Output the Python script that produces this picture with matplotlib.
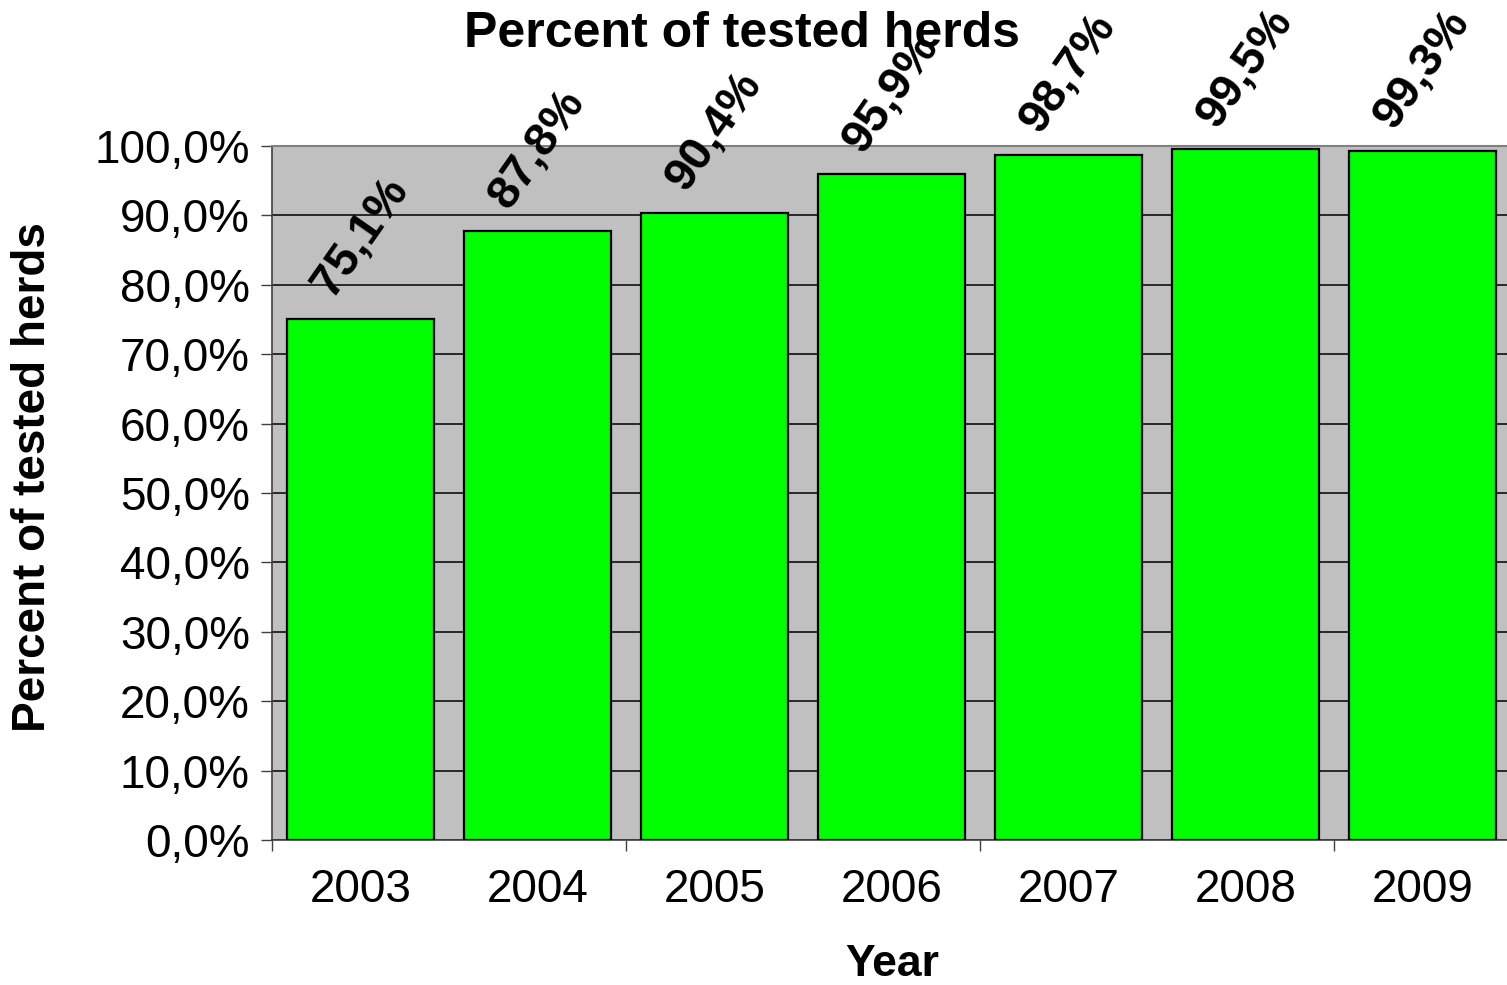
import matplotlib
matplotlib.use("Agg")
import matplotlib.pyplot as plt
from matplotlib.ticker import FuncFormatter, FixedLocator

years = ["2003", "2004", "2005", "2006", "2007", "2008", "2009"]
values = [75.1, 87.8, 90.4, 95.9, 98.7, 99.5, 99.3]
title = "Percent of tested herds"
ylabel = "Percent of tested herds"
xlabel = "Year"

plt.rcParams['font.family'] = ['Liberation Sans', 'DejaVu Sans']

fig = plt.figure(figsize=(15.07, 9.85), dpi=100)
ax = fig.add_axes([272/1507, 145/985, 1239/1507, 694/985])
ax.set_facecolor('#C0C0C0')

x = list(range(len(years)))
bars = ax.bar(x, values, width=0.835, color='#00FF00', edgecolor='black', linewidth=1.6, zorder=3)

ax.set_xlim(-0.5, len(years) - 0.5)
ax.set_ylim(0, 100)
ax.set_yticks([i * 10 for i in range(11)])
ax.yaxis.set_major_formatter(FuncFormatter(lambda v, p: f"{v:.1f}".replace('.', ',') + "%"))
ax.grid(axis='y', color='black', linewidth=1.1, zorder=1)
ax.set_axisbelow(True)

ax.set_xticks(x)
ax.set_xticklabels(years)
ax.xaxis.set_minor_locator(FixedLocator([-0.5, 1.5, 3.5, 5.5]))
ax.tick_params(axis='x', which='major', length=0, pad=20, labelsize=33)
ax.tick_params(axis='x', which='minor', length=8, width=1, color='#404040', direction='out')
ax.tick_params(axis='y', which='major', length=8, width=1, color='#404040', direction='out', pad=8, labelsize=33)

for s in ['left', 'bottom']:
    ax.spines[s].set_color('#404040')
    ax.spines[s].set_linewidth(1.2)
ax.spines['top'].set_color('#808080')
ax.spines['top'].set_linewidth(1.5)
ax.spines['right'].set_visible(False)

for xi, v in zip(x, values):
    ax.annotate(f"{v:.1f}".replace('.', ',') + "%", (xi, v), xytext=(0, 10), textcoords='offset points',
                ha='center', va='bottom', rotation=55, fontsize=34, fontweight='bold', zorder=5,
                annotation_clip=False)

fig.text(742/1507, 1 - 34/985, title, ha='center', va='center', fontsize=36, fontweight='bold')
fig.text(33/1507, 1 - 477/985, ylabel, ha='center', va='center', rotation=90, fontsize=33, fontweight='bold')
fig.text(892/1507, 1 - 965/985, xlabel, ha='center', va='center', fontsize=32, fontweight='bold')

fig.savefig("out.png", dpi=100)
